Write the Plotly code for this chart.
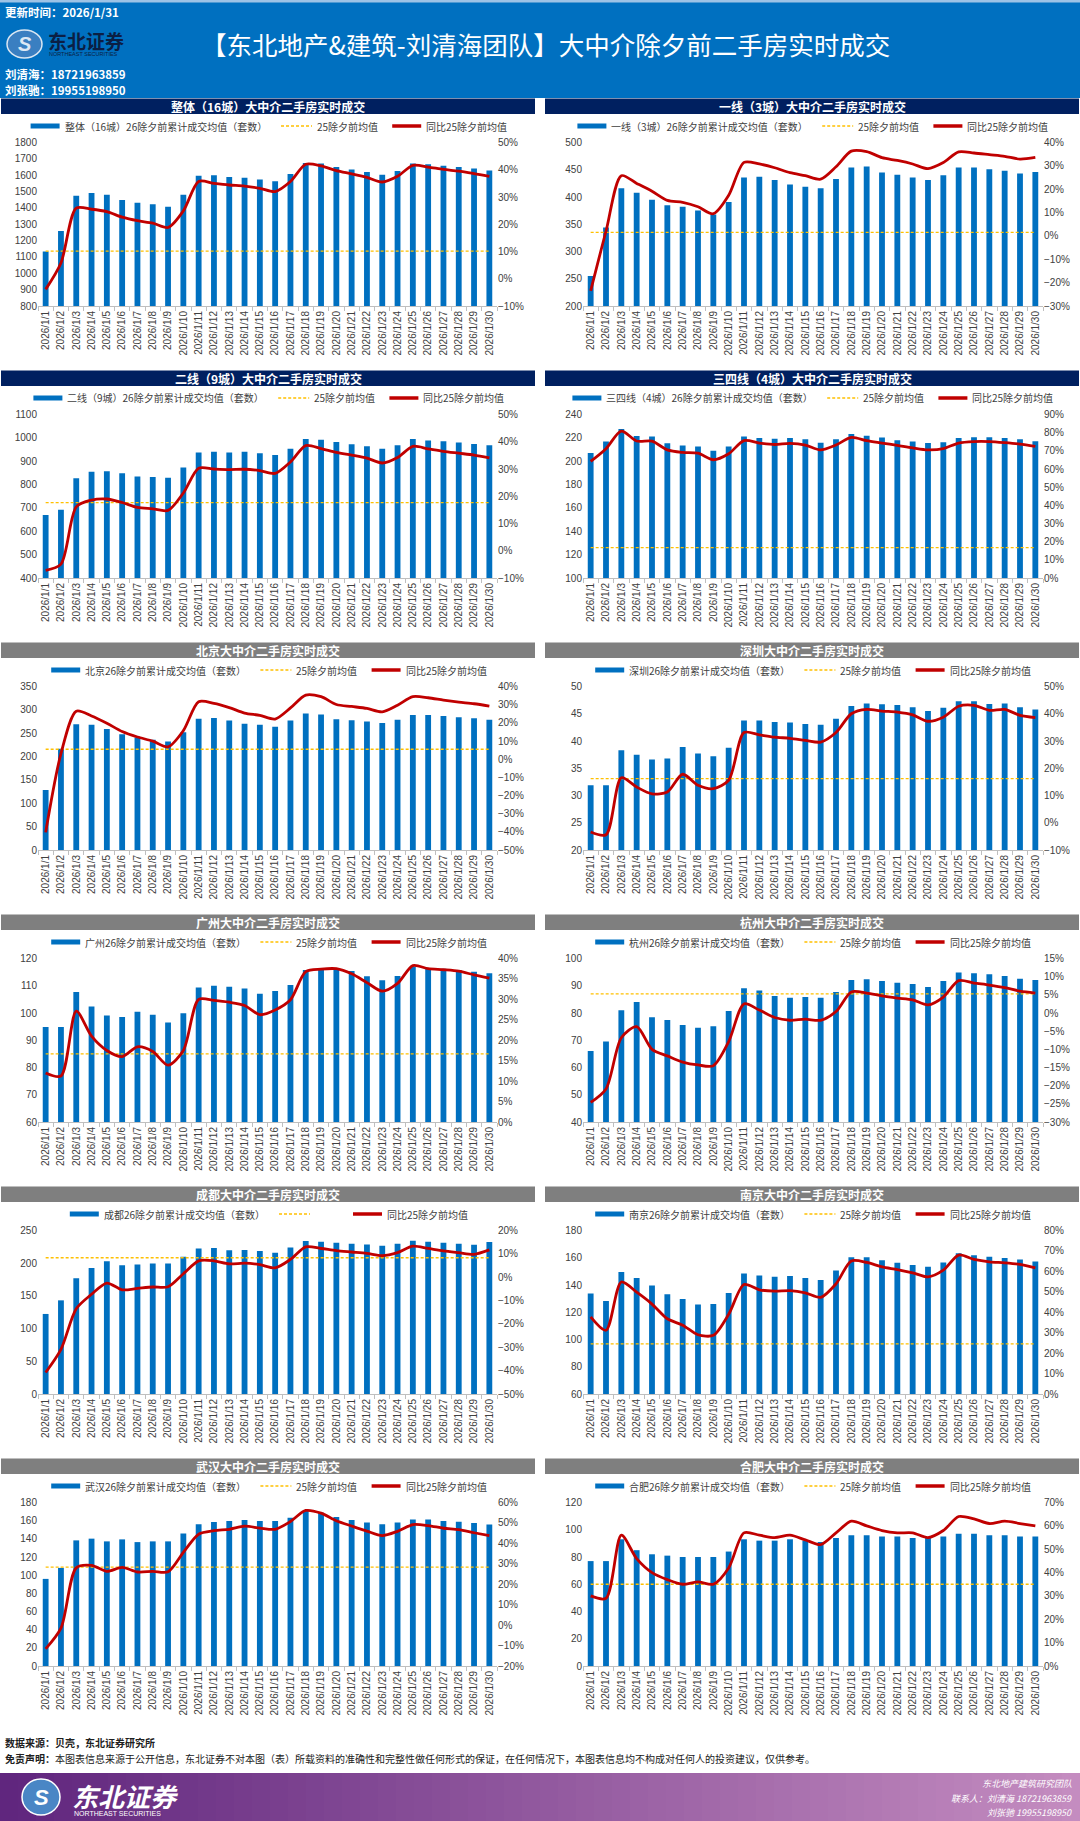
import plotly.graph_objects as go

W, H = 1080, 1821

dates = ["2026/1/1", "2026/1/2", "2026/1/3", "2026/1/4", "2026/1/5", "2026/1/6", "2026/1/7", "2026/1/8",
         "2026/1/9", "2026/1/10", "2026/1/11", "2026/1/12", "2026/1/13", "2026/1/14", "2026/1/15",
         "2026/1/16", "2026/1/17", "2026/1/18", "2026/1/19", "2026/1/20", "2026/1/21", "2026/1/22",
         "2026/1/23", "2026/1/24", "2026/1/25", "2026/1/26", "2026/1/27", "2026/1/28", "2026/1/29",
         "2026/1/30"]

# ---- data ----
zt_bar = [1134, 1259, 1474, 1491, 1481, 1449, 1432, 1422, 1407, 1481, 1597, 1599, 1589, 1584, 1574,
          1563, 1608, 1675, 1671, 1650, 1635, 1620, 1603, 1625, 1671, 1667, 1658, 1650, 1641, 1629]
zt_yoy = [-3.9, 5.8, 25.9, 25.5, 24.6, 22.6, 21.3, 20.4, 18.8, 24.9, 35.7, 35.0, 34.4, 34.0, 33.2,
          32.0, 35.7, 42.0, 41.4, 39.7, 38.5, 37.2, 35.5, 37.6, 41.6, 41.0, 40.1, 39.5, 38.6, 37.6]
zt_avg = 1136

yx_bar = [255, 344, 416, 408, 395, 385, 382, 375, 368, 391, 436, 437, 431, 423, 419,
          416, 433, 454, 456, 445, 441, 436, 431, 440, 454, 454, 451, 448, 443, 446]
yx_yoy = [-23.5, 2.0, 25.8, 22.5, 19.1, 15.2, 14.4, 12.5, 9.5, 17.4, 31.5, 30.8, 29.2, 27.1, 25.8,
          24.3, 29.6, 36.3, 36.1, 33.5, 32.3, 30.8, 28.8, 31.4, 36.0, 35.5, 34.8, 34.1, 32.9, 33.6]
yx_avg = 335

ex_bar = [670, 692, 827, 855, 857, 848, 835, 832, 829, 873, 937, 940, 937, 940, 934,
          927, 953, 995, 992, 982, 973, 964, 953, 968, 995, 989, 985, 980, 974, 968]
ex_yoy = [-7.2, -4.9, 16.1, 18.6, 19.0, 17.7, 15.9, 15.4, 14.8, 21.2, 30.3, 30.0, 29.8, 29.9, 29.4,
          28.4, 32.6, 38.6, 37.5, 36.1, 35.1, 34.0, 32.2, 34.2, 38.3, 37.4, 36.5, 35.8, 35.1, 34.1]
ex_avg = 723

ss_bar = [207, 216.8, 227.5, 221.5, 221.2, 215.3, 213.5, 212.6, 209, 212.6, 221.2, 219.8, 219.2, 219.8, 218.9,
          215.9, 218.9, 223.3, 221.8, 220.3, 218, 216.8, 215.6, 216.2, 219.8, 220.6, 220.6, 219.8, 218.9, 217.1]
ss_yoy = [64.2, 71.2, 80.8, 75.4, 75.3, 70.5, 69.1, 68.7, 65.1, 68.4, 75.6, 74.3, 73.5, 74.1, 73.2,
          70.5, 73.2, 77.4, 75.6, 74.3, 73.0, 71.6, 70.5, 71.2, 74.3, 75.1, 75.1, 74.5, 73.7, 72.4]
ss_avg = 126

bj_bar = [128.5, 217, 269, 268, 259, 248, 241, 236, 232, 252, 281, 282.5, 277, 270, 268,
          264, 277, 292, 290, 280, 278, 275, 272, 279, 289, 289, 287, 284, 282, 279]
bj_yoy = [-40.3, 3.0, 26.4, 23.8, 19.8, 15.2, 12.2, 9.9, 6.8, 15.7, 31.6, 30.7, 28.4, 25.4, 24.1,
          22.1, 28.2, 35.3, 34.4, 30.1, 29.0, 27.9, 26.0, 29.7, 34.4, 33.8, 32.5, 31.4, 30.5, 29.2]
bj_avg = 215.7

sz_bar = [31.9, 31.9, 38.3, 37.5, 36.6, 36.8, 38.9, 37.7, 37.2, 38.75, 43.75, 43.75, 43.5, 43.4, 43.1,
          43.0, 44.1, 46.4, 46.9, 46.75, 46.6, 46.2, 45.5, 46.1, 47.3, 47.3, 46.8, 46.9, 46.2, 45.8]
sz_yoy = [-3.4, -4.4, 16.5, 13.1, 10.6, 11.3, 17.8, 13.75, 12.5, 15.6, 33.1, 32.25, 31.4, 31.0, 30.25,
          29.6, 33.1, 40.0, 41.6, 41.0, 40.6, 39.6, 37.25, 38.75, 42.75, 43.1, 41.25, 41.6, 39.4, 38.6]
sz_avg = 33.1

gz_bar = [94.9, 94.9, 107.75, 102.4, 99.1, 98.5, 100.5, 99.4, 96.5, 99.9, 109.4, 110, 109.6, 109, 107.1,
          108.1, 110.25, 115.75, 116.25, 116.5, 115.4, 113.5, 112, 113.6, 117.1, 116.5, 116.25, 115.75, 115.1, 114.6]
gz_yoy = [12, 11.25, 27.1, 21, 17.5, 16, 18.4, 17.25, 13.9, 17.5, 30, 29.75, 29.3, 28.5, 26.25,
          27.4, 29.9, 36.8, 37.4, 37.5, 36.25, 34.1, 32, 33.9, 38.25, 37.5, 37.25, 36.9, 36, 35.2]
gz_avg = 85

hz_bar = [66.1, 69.5, 81, 84, 78.4, 77.4, 75.6, 74.6, 75.1, 80.75, 89.1, 88.25, 86.25, 85.6, 85.9,
          85.6, 87.75, 92.1, 92.4, 91.75, 91.1, 90.6, 89.5, 91.75, 94.9, 94.6, 94.25, 93.6, 92.6, 92.1]
hz_yoy = [-24.6, -20.9, -6.8, -3.75, -10.0, -11.8, -13.5, -14.3, -14.5, -7.9, 2.5, 0.8, -1.25, -2.0, -1.7,
          -2.0, 0.4, 5.8, 5.5, 4.7, 4.1, 3.6, 2.25, 4.4, 8.9, 8.25, 7.7, 7.0, 6.0, 5.5]
hz_avg = 87

cd_bar = [122.4, 143.2, 177, 192.7, 203.1, 196.9, 197.9, 199.5, 199.5, 210, 222.4, 223.4, 219.8, 220.3, 218.75,
          216.1, 224, 233.9, 232.8, 231.25, 229.7, 228.6, 226.6, 229.7, 234.4, 232.8, 231.25, 229.7, 228.1, 232.3]
cd_yoy = [-40.8, -30.9, -13.5, -7.3, -2.5, -5.4, -4.8, -4.2, -4.1, 1.5, 7.0, 7.0, 5.7, 6.0, 5.4,
          4.0, 7.6, 13.0, 12.3, 11.4, 10.8, 10.2, 9.2, 10.5, 13.3, 12.3, 11.25, 10.5, 9.8, 11.7]
cd_avg = 208.3

nj_bar = [133.7, 128.2, 149.6, 145.1, 139.7, 133.2, 129.7, 125.7, 126, 134.2, 148.4, 146.9, 146.1, 146.6, 145.1,
          143.6, 150.6, 160.3, 160.3, 158.1, 156.3, 154.6, 153.4, 156.6, 163.3, 161.8, 160.8, 159.8, 158.8, 157.3]
nj_yoy = [37.7, 31.2, 54.8, 49.8, 44.0, 36.8, 33.7, 29.0, 28.7, 39.0, 53.6, 51.0, 50.3, 50.6, 49.5,
          47.3, 53.9, 65.1, 64.4, 62.2, 60.9, 59.3, 57.3, 60.6, 68.0, 65.9, 64.7, 64.2, 63.4, 61.7]
nj_avg = 96.8

wh_bar = [95.9, 108, 138.3, 140.2, 137.2, 139.4, 136.4, 137.2, 137.2, 145.9, 156.1, 158.4, 159.5, 160.7, 159.5,
          159.5, 163.3, 171.3, 168.6, 164.1, 160.7, 158, 156.1, 158, 161.4, 161.4, 159.5, 158.8, 157.3, 155.7]
wh_yoy = [-11.6, -1.5, 28, 29.2, 26.3, 28.3, 26, 26.3, 26.1, 35.6, 44.5, 46.2, 46.9, 48.4, 47.5,
          46.9, 50.7, 56.1, 54.8, 51.1, 48.5, 46.0, 43.8, 45.9, 49.2, 48.7, 47.4, 46.7, 45.2, 43.8]
wh_avg = 108.8

hf_bar = [77, 77, 93, 85, 82, 81, 80, 80, 80, 84, 93, 92, 92, 93, 92,
          91, 94, 96, 96, 95, 95, 94, 94, 95, 97, 97, 96, 96, 95, 95]
hf_yoy = [30, 29, 56, 46, 40, 37, 35, 36, 35, 42, 57, 56, 55, 56, 54,
          52, 57, 62, 60, 58, 57, 57, 55, 58, 64, 63, 61, 62, 61, 60]
hf_avg = 60

NAVY = "#002060"
GRAY = "#7F7F7F"
BLUE = "#0070C0"
RED = "#C00000"
YEL = "#FFC000"
AVG_NAME = "25除夕前均值"
YOY_NAME = "同比25除夕前均值"

panels = [
    dict(title="整体（16城）大中介二手房实时成交", bname="整体（16城）26除夕前累计成交均值（套数）", aname=AVG_NAME,
         bar=zt_bar, yoy=zt_yoy, avg=zt_avg, yr=[800, 1800], yd=100, y2r=[-10, 50], y2d=10, head=NAVY),
    dict(title="一线（3城）大中介二手房实时成交", bname="一线（3城）26除夕前累计成交均值（套数）", aname=AVG_NAME,
         bar=yx_bar, yoy=yx_yoy, avg=yx_avg, yr=[200, 500], yd=50, y2r=[-30, 40], y2d=10, head=NAVY),
    dict(title="二线（9城）大中介二手房实时成交", bname="二线（9城）26除夕前累计成交均值（套数）", aname=AVG_NAME,
         bar=ex_bar, yoy=ex_yoy, avg=ex_avg, yr=[400, 1100], yd=100, y2r=[-10, 50], y2d=10, head=NAVY),
    dict(title="三四线（4城）大中介二手房实时成交", bname="三四线（4城）26除夕前累计成交均值（套数）", aname=AVG_NAME,
         bar=ss_bar, yoy=ss_yoy, avg=ss_avg, yr=[100, 240], yd=20, y2r=[0, 90], y2d=10, head=NAVY),
    dict(title="北京大中介二手房实时成交", bname="北京26除夕前累计成交均值（套数）", aname=AVG_NAME,
         bar=bj_bar, yoy=bj_yoy, avg=bj_avg, yr=[0, 350], yd=50, y2r=[-50, 40], y2d=10, head=GRAY),
    dict(title="深圳大中介二手房实时成交", bname="深圳26除夕前累计成交均值（套数）", aname=AVG_NAME,
         bar=sz_bar, yoy=sz_yoy, avg=sz_avg, yr=[20, 50], yd=5, y2r=[-10, 50], y2d=10, head=GRAY),
    dict(title="广州大中介二手房实时成交", bname="广州26除夕前累计成交均值（套数）", aname=AVG_NAME,
         bar=gz_bar, yoy=gz_yoy, avg=gz_avg, yr=[60, 120], yd=10, y2r=[0, 40], y2d=5, head=GRAY),
    dict(title="杭州大中介二手房实时成交", bname="杭州26除夕前累计成交均值（套数）", aname=AVG_NAME,
         bar=hz_bar, yoy=hz_yoy, avg=hz_avg, yr=[40, 100], yd=10, y2r=[-30, 15], y2d=5, head=GRAY),
    dict(title="成都大中介二手房实时成交", bname="成都26除夕前累计成交均值（套数）", aname="",
         bar=cd_bar, yoy=cd_yoy, avg=cd_avg, yr=[0, 250], yd=50, y2r=[-50, 20], y2d=10, head=GRAY),
    dict(title="南京大中介二手房实时成交", bname="南京26除夕前累计成交均值（套数）", aname=AVG_NAME,
         bar=nj_bar, yoy=nj_yoy, avg=nj_avg, yr=[60, 180], yd=20, y2r=[0, 80], y2d=10, head=GRAY),
    dict(title="武汉大中介二手房实时成交", bname="武汉26除夕前累计成交均值（套数）", aname=AVG_NAME,
         bar=wh_bar, yoy=wh_yoy, avg=wh_avg, yr=[0, 180], yd=20, y2r=[-20, 60], y2d=10, head=GRAY),
    dict(title="合肥大中介二手房实时成交", bname="合肥26除夕前累计成交均值（套数）", aname=AVG_NAME,
         bar=hf_bar, yoy=hf_yoy, avg=hf_avg, yr=[0, 120], yd=20, y2r=[0, 70], y2d=10, head=GRAY),
]

CJK = "Noto Sans CJK SC"
NUM = "Liberation Sans, Arial, sans-serif"
TICKF = dict(family=NUM, size=10, color="#404040")


def px(x):
    return x / W


def py(y):
    return 1 - y / H


def tw(s, fs):
    w = 0.0
    for ch in s:
        if ord(ch) > 0x2E80:
            w += fs
        elif ch.isdigit():
            w += 0.56 * fs
        else:
            w += 0.5 * fs
    return w


fig = go.Figure()
shapes = []
annos = []
layout = {}

for k, p in enumerate(panels):
    r, c = divmod(k, 2)
    T = 98.5 + 272 * r
    bx0, bx1 = (1, 535) if c == 0 else (545, 1079)
    x0, x1 = (38, 497) if c == 0 else (583, 1043)
    xn = "x" if k == 0 else f"x{k + 1}"
    yl = "y" if k == 0 else f"y{2 * k + 1}"
    yr_ = f"y{2 * k + 2}"
    layout["xaxis" if k == 0 else f"xaxis{k + 1}"] = dict(
        domain=[px(x0), px(x1)], anchor=yl, type="category", tickangle=-90,
        tickfont=TICKF, showline=True, linecolor="#BFBFBF",
        linewidth=1, ticks="outside", tickson="boundaries", ticklen=4, tickcolor="#BFBFBF",
        showgrid=False, zeroline=False, automargin=False)
    layout["yaxis" if k == 0 else f"yaxis{2 * k + 1}"] = dict(
        domain=[py(T + 207.5), py(T + 44)], anchor=xn, range=p["yr"], dtick=p["yd"], tick0=p["yr"][0],
        tickfont=TICKF, showgrid=False, zeroline=False,
        showline=False, ticks="", automargin=False)
    layout[f"yaxis{2 * k + 2}"] = dict(
        overlaying=yl, side="right", anchor=xn, range=p["y2r"], dtick=p["y2d"], tick0=p["y2r"][0],
        ticksuffix="%", tickfont=TICKF, showgrid=False,
        zeroline=False, showline=False, ticks="", automargin=False)

    fig.add_trace(go.Bar(x=dates, y=p["bar"], xaxis=xn, yaxis=yl, marker=dict(color=BLUE, line=dict(width=0)),
                         name=p["bname"], showlegend=False))
    fig.add_trace(go.Scatter(x=dates, y=[p["avg"]] * len(dates), xaxis=xn, yaxis=yl, mode="lines",
                             line=dict(color=YEL, width=1.3, dash="3px,2px"), name=AVG_NAME, showlegend=False))
    fig.add_trace(go.Scatter(x=dates, y=p["yoy"], xaxis=xn, yaxis=yr_, mode="lines",
                             line=dict(color=RED, width=2.8, shape="spline", smoothing=0.8),
                             name=YOY_NAME, showlegend=False))

    # title bar
    shapes.append(dict(type="rect", xref="paper", yref="paper", x0=px(bx0), x1=px(bx1),
                       y0=py(T + 15.5), y1=py(T), fillcolor=p["head"], line=dict(width=0), layer="below"))
    annos.append(dict(xref="paper", yref="paper", x=px((bx0 + bx1) / 2), y=py(T + 8), text="<b>" + p["title"] + "</b>",
                      showarrow=False, xanchor="center", yanchor="middle",
                      font=dict(family=CJK, size=12, color="white")))

    # manual legend
    fs = 10
    ly = T + 27.5
    a_w = tw(p["aname"], fs) if p["aname"] else 24
    total = 29 + 3 + tw(p["bname"], fs) + 16 + 31 + 3 + a_w + 16 + 29 + 3 + tw(YOY_NAME, fs)
    sx = (bx0 + bx1) / 2 - total / 2
    shapes.append(dict(type="rect", xref="paper", yref="paper", x0=px(sx), x1=px(sx + 29),
                       y0=py(ly + 2.5), y1=py(ly - 2.5), fillcolor=BLUE, line=dict(width=0)))
    annos.append(dict(xref="paper", yref="paper", x=px(sx + 32), y=py(ly), text=p["bname"], showarrow=False,
                      xanchor="left", yanchor="middle", font=dict(family=CJK, size=fs, color="#404040")))
    sx += 29 + 3 + tw(p["bname"], fs) + 16
    shapes.append(dict(type="line", xref="paper", yref="paper", x0=px(sx), x1=px(sx + 31), y0=py(ly), y1=py(ly),
                       line=dict(color=YEL, width=1.3, dash="3px,2px")))
    if p["aname"]:
        annos.append(dict(xref="paper", yref="paper", x=px(sx + 34), y=py(ly), text=p["aname"], showarrow=False,
                          xanchor="left", yanchor="middle", font=dict(family=CJK, size=fs, color="#404040")))
    sx += 31 + 3 + a_w + 16
    shapes.append(dict(type="line", xref="paper", yref="paper", x0=px(sx), x1=px(sx + 29), y0=py(ly), y1=py(ly),
                       line=dict(color=RED, width=3.5)))
    annos.append(dict(xref="paper", yref="paper", x=px(sx + 32), y=py(ly), text=YOY_NAME, showarrow=False,
                      xanchor="left", yanchor="middle", font=dict(family=CJK, size=fs, color="#404040")))

# ---- header ----
shapes.insert(0, dict(type="rect", xref="paper", yref="paper", x0=0, x1=1, y0=py(98), y1=1,
                      fillcolor="#0070C0", line=dict(width=0), layer="below"))
shapes.append(dict(type="rect", xref="paper", yref="paper", x0=0, x1=1, y0=py(2.5), y1=1,
                   fillcolor="#9DC3E6", line=dict(width=0)))
# header logo
shapes.append(dict(type="circle", xref="paper", yref="paper", x0=px(7), x1=px(42), y0=py(58), y1=py(30),
                   fillcolor="#3A7FC1", line=dict(color="#D9E6F2", width=1.5)))
annos.append(dict(xref="paper", yref="paper", x=px(24.5), y=py(44), text="<b><i>S</i></b>", showarrow=False,
                  xanchor="center", yanchor="middle", font=dict(family=NUM, size=20, color="#DCE8F4")))
annos.append(dict(xref="paper", yref="paper", x=px(46), y=py(40), text="<b>东北证券</b>", showarrow=False,
                  xanchor="left", yanchor="middle", font=dict(family=CJK, size=19, color="#0B1F44")))
annos.append(dict(xref="paper", yref="paper", x=px(47), y=py(54), text="NORTHEAST SECURITIES", showarrow=False,
                  xanchor="left", yanchor="middle", font=dict(family=NUM, size=5.5, color="#0B1F44")))
annos.append(dict(xref="paper", yref="paper", x=px(3), y=py(12), text="<b>更新时间：2026/1/31</b>", showarrow=False,
                  xanchor="left", yanchor="middle", font=dict(family=CJK, size=11.5, color="white")))
annos.append(dict(xref="paper", yref="paper", x=px(3), y=py(74), text="<b>刘清海：18721963859</b>", showarrow=False,
                  xanchor="left", yanchor="middle", font=dict(family=CJK, size=11.5, color="white")))
annos.append(dict(xref="paper", yref="paper", x=px(3), y=py(90), text="<b>刘张驰：19955198950</b>", showarrow=False,
                  xanchor="left", yanchor="middle", font=dict(family=CJK, size=11.5, color="white")))
annos.append(dict(xref="paper", yref="paper", x=px(545), y=py(44),
                  text="【东北地产&建筑-刘清海团队】大中介除夕前二手房实时成交", showarrow=False,
                  xanchor="center", yanchor="middle", font=dict(family=CJK, size=25.5, color="white")))

# ---- footer ----
annos.append(dict(xref="paper", yref="paper", x=px(3), y=py(1742), text="<b>数据来源：贝壳，东北证券研究所</b>",
                  showarrow=False, xanchor="left", yanchor="middle", font=dict(family=CJK, size=10, color="#202020")))
annos.append(dict(xref="paper", yref="paper", x=px(3), y=py(1758),
                  text="<b>免责声明：</b>本图表信息来源于公开信息，东北证券不对本图（表）所载资料的准确性和完整性做任何形式的保证，在任何情况下，本图表信息均不构成对任何人的投资建议，仅供参考。",
                  showarrow=False, xanchor="left", yanchor="middle", font=dict(family=CJK, size=10, color="#202020")))
n_strip = 60
c0 = (96, 38, 126)
c1 = (196, 140, 192)
for i in range(n_strip):
    t = i / (n_strip - 1)
    col = tuple(int(c0[j] + (c1[j] - c0[j]) * t) for j in range(3))
    shapes.append(dict(type="rect", xref="paper", yref="paper", x0=i / n_strip, x1=(i + 1) / n_strip + 0.001,
                       y0=0, y1=py(1773), fillcolor=f"rgb{col}", line=dict(width=0), layer="below"))
shapes.append(dict(type="circle", xref="paper", yref="paper", x0=px(22), x1=px(60), y0=py(1815), y1=py(1779),
                   fillcolor="#4A86C5", line=dict(color="white", width=1.5)))
annos.append(dict(xref="paper", yref="paper", x=px(41), y=py(1797), text="<b><i>S</i></b>", showarrow=False,
                  xanchor="center", yanchor="middle", font=dict(family=NUM, size=22, color="white")))
annos.append(dict(xref="paper", yref="paper", x=px(70), y=py(1795), text="<b><i>东北证券</i></b>", showarrow=False,
                  xanchor="left", yanchor="middle", font=dict(family=CJK, size=26, color="white")))
annos.append(dict(xref="paper", yref="paper", x=px(72), y=py(1813), text="NORTHEAST SECURITIES", showarrow=False,
                  xanchor="left", yanchor="middle", font=dict(family=NUM, size=7, color="white")))
annos.append(dict(xref="paper", yref="paper", x=px(1074), y=py(1783), text="<i>东北地产建筑研究团队</i>", showarrow=False,
                  xanchor="right", yanchor="middle", font=dict(family=CJK, size=9, color="white")))
annos.append(dict(xref="paper", yref="paper", x=px(1074), y=py(1798), text="<i>联系人：刘清海 18721963859</i>",
                  showarrow=False, xanchor="right", yanchor="middle", font=dict(family=CJK, size=9, color="white")))
annos.append(dict(xref="paper", yref="paper", x=px(1074), y=py(1812), text="<i>刘张驰 19955198950</i>", showarrow=False,
                  xanchor="right", yanchor="middle", font=dict(family=CJK, size=9, color="white")))

fig.update_layout(
    width=W, height=H, margin=dict(l=0, r=0, t=0, b=0), template="none",
    paper_bgcolor="white", plot_bgcolor="rgba(0,0,0,0)", showlegend=False,
    bargap=0.62, shapes=shapes, annotations=annos, font=dict(family=CJK), **layout)

fig.write_html("out.html", config={"displayModeBar": False},
               post_script="document.body.style.margin='0';document.body.style.padding='0';document.body.style.overflow='hidden';")
